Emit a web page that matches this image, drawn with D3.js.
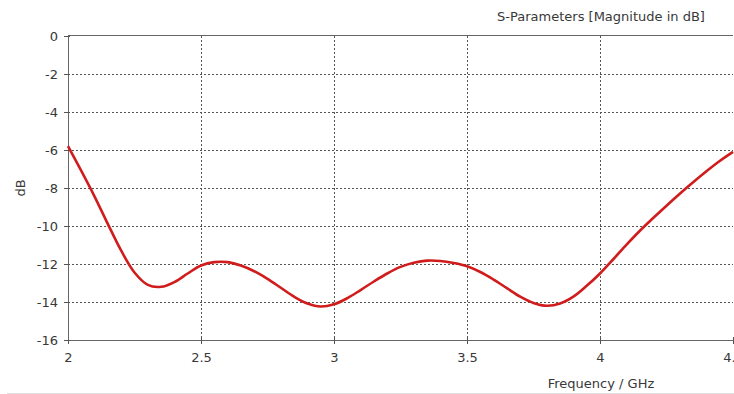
<!DOCTYPE html>
<html lang="en">
<head>
    <meta charset="UTF-8">
    <title>S-Parameters</title>
    <script src="https://d3js.org/d3.v7.min.js"></script>
    <style>
        body { margin: 0; background: #fff; }
        text { font-family: "DejaVu Sans", sans-serif; }
    </style>
</head>
<body>
    <div id="chart"></div>

    <script>
        // frequency (GHz) and |S11| (dB)
        const freq = [2.00, 2.05, 2.10, 2.15, 2.20, 2.25, 2.30, 2.35, 2.40, 2.45,
                      2.50, 2.55, 2.60, 2.65, 2.70, 2.75, 2.80, 2.85, 2.90, 2.95,
                      3.00, 3.05, 3.10, 3.15, 3.20, 3.25, 3.30, 3.35, 3.40, 3.45,
                      3.50, 3.55, 3.60, 3.65, 3.70, 3.75, 3.80, 3.85, 3.90, 3.95,
                      4.00, 4.05, 4.10, 4.15, 4.20, 4.25, 4.30, 4.35, 4.40, 4.45, 4.50];
        const s11 = [-5.8, -7.1, -8.45, -9.9, -11.3, -12.45, -13.1, -13.2, -12.95, -12.5,
                     -12.08, -11.9, -11.9, -12.08, -12.38, -12.78, -13.25, -13.72, -14.08, -14.24,
                     -14.12, -13.8, -13.37, -12.92, -12.5, -12.15, -11.93, -11.82, -11.84, -11.95,
                     -12.12, -12.42, -12.82, -13.27, -13.72, -14.05, -14.2, -14.08, -13.72, -13.15,
                     -12.5, -11.75, -10.98, -10.25, -9.58, -8.93, -8.3, -7.7, -7.12, -6.58, -6.1];
        const xTicks = [2, 2.5, 3, 3.5, 4, 4.5];
        const yTicks = [0, -2, -4, -6, -8, -10, -12, -14, -16];

        const W = 734, H = 394;
        const margin = {top: 36, right: 1, bottom: 54, left: 68},
            width = W - margin.left - margin.right,
            height = H - margin.top - margin.bottom;

        const svg = d3.select('#chart')
            .append('svg')
                .attr('width', W)
                .attr('height', H);

        // title
        svg.append('text')
            .attr('x', 601).attr('y', 21)
            .attr('text-anchor', 'middle')
            .attr('font-size', 13)
            .attr('fill', '#383838')
            .text('S-Parameters [Magnitude in dB]');

        // faint separator at the bottom
        svg.append('line')
            .attr('x1', 7).attr('x2', W)
            .attr('y1', 393.5).attr('y2', 393.5)
            .attr('stroke', '#ddd');

        const g = svg.append('g')
            .attr('transform', `translate(${margin.left}, ${margin.top})`);

        const x = d3.scaleLinear().domain([2, 4.5]).range([0, width]);
        const y = d3.scaleLinear().domain([-16, 0]).range([height, 0]);

        // dotted grid
        g.append('g')
            .selectAll('line')
            .data(xTicks.filter(d => d > 2 && d < 4.5))
            .join('line')
                .attr('x1', d => Math.round(x(d)) + 0.5).attr('x2', d => Math.round(x(d)) + 0.5)
                .attr('y1', 0).attr('y2', height)
                .attr('stroke', '#555')
                .attr('stroke-dasharray', '2,2');
        g.append('g')
            .selectAll('line')
            .data(yTicks.filter(d => d < 0 && d > -16))
            .join('line')
                .attr('x1', 0).attr('x2', width)
                .attr('y1', d => Math.round(y(d)) + 0.5).attr('y2', d => Math.round(y(d)) + 0.5)
                .attr('stroke', '#555')
                .attr('stroke-dasharray', '2,2');

        // top border
        g.append('line')
            .attr('x1', 0).attr('x2', width)
            .attr('y1', -0.5).attr('y2', -0.5)
            .attr('stroke', '#666');

        // axes, plain hyphen for the minus sign
        const fmt = d => String(d);
        const xAxis = g.append('g')
            .attr('transform', `translate(0, ${height})`)
            .call(d3.axisBottom(x).tickValues(xTicks).tickSize(4).tickSizeOuter(0).tickPadding(9)
                .tickFormat(fmt));
        const yAxis = g.append('g')
            .call(d3.axisLeft(y).tickValues(yTicks).tickSize(4).tickSizeOuter(0).tickPadding(6)
                .tickFormat(fmt));

        // ticks cross the axis line
        xAxis.selectAll('.tick line').attr('y1', -3).attr('y2', 4);
        yAxis.selectAll('.tick line').attr('x1', 2).attr('x2', -4);

        [xAxis, yAxis].forEach(a => {
            a.select('.domain').attr('stroke', '#666');
            a.selectAll('.tick line').attr('stroke', '#555');
            a.selectAll('.tick text')
                .attr('fill', '#383838')
                .attr('font-size', 13)
                .attr('font-family', '"DejaVu Sans", sans-serif');
        });

        // axis titles
        svg.append('text')
            .attr('x', 601).attr('y', 388)
            .attr('text-anchor', 'middle')
            .attr('font-size', 13)
            .attr('fill', '#383838')
            .text('Frequency / GHz');
        svg.append('text')
            .attr('transform', 'translate(25, 188) rotate(-90)')
            .attr('text-anchor', 'middle')
            .attr('font-size', 13)
            .attr('fill', '#383838')
            .text('dB');

        // S11 curve
        const data = freq.map((f, i) => ({f: f, v: s11[i]}));
        g.append('path')
            .datum(data)
            .attr('fill', 'none')
            .attr('stroke', '#d01c1c')
            .attr('stroke-width', 2.6)
            .attr('stroke-linejoin', 'round')
            .attr('d', d3.line()
                .curve(d3.curveCatmullRom)
                .x(d => x(d.f))
                .y(d => y(d.v))
            );
    </script>
</body>
</html>
